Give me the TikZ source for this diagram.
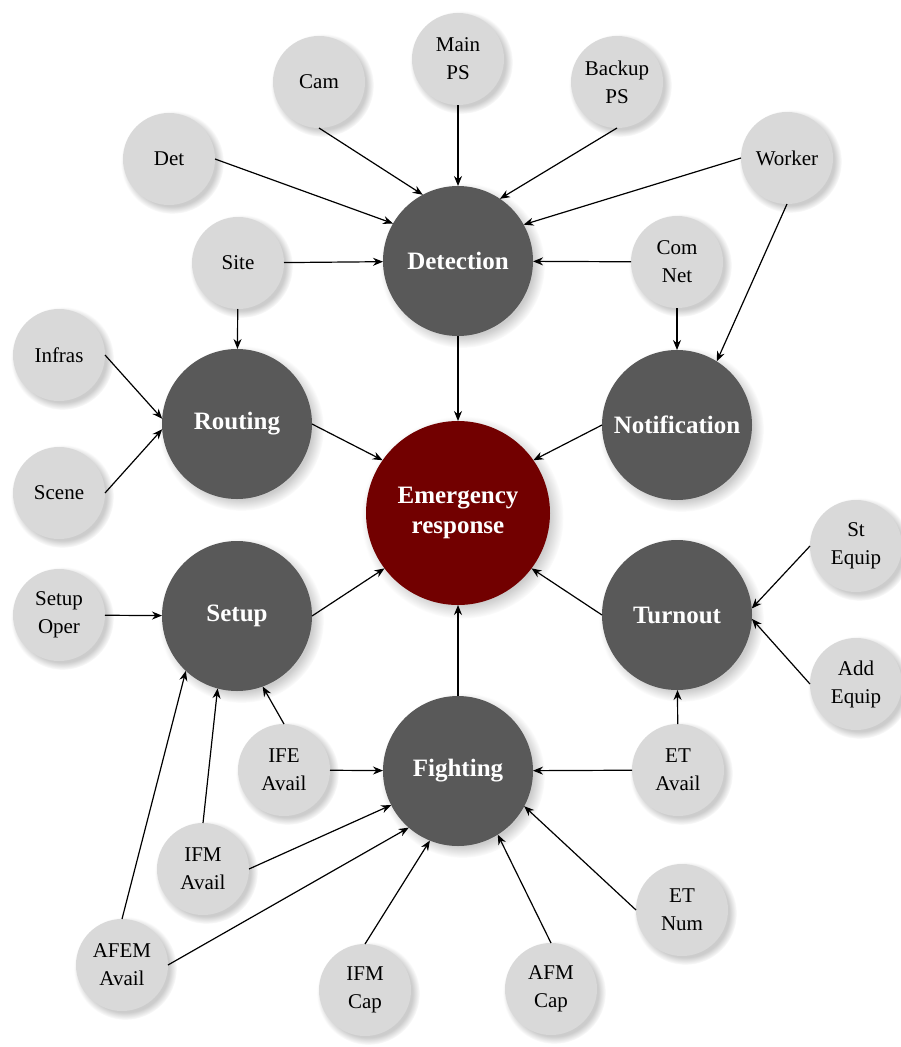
\documentclass[tikz,border=0pt]{standalone}
\usepackage{fontspec}
\setmainfont{Liberation Serif}
\usetikzlibrary{shadows,arrows.meta}
\definecolor{hubgray}{RGB}{89,89,89}
\definecolor{leafgray}{RGB}{217,217,217}
\definecolor{respred}{RGB}{114,0,0}
\tikzset{>={Stealth[length=10pt,width=8pt]}}
\tikzset{
  leaf/.style={circle, fill=leafgray, minimum size=92pt, inner sep=0pt, outer sep=0pt,
    align=center, font=\fontsize{21}{28}\selectfont,
    circular drop shadow={shadow xshift=3pt, shadow yshift=-3pt, shadow scale=1.12, opacity=0.4}},
  hub/.style={circle, fill=hubgray, text=white, minimum size=150pt, inner sep=0pt, outer sep=0pt,
    align=center, font=\bfseries\fontsize{25}{30}\selectfont,
    circular drop shadow={shadow xshift=4pt, shadow yshift=-4pt, shadow scale=1.1, opacity=0.4}},
  goal/.style={hub, fill=respred, minimum size=184pt},
  link/.style={->, line width=1.2pt}
}

\begin{document}
\begin{tikzpicture}[x=1pt, y=-1pt]
    \useasboundingbox (0,0) rectangle (901,1047);

    \node[hub] (detect) at (458,261) {Detection};
    \node[goal] (emerg) at (458,513) {Emergency\\response};
    \node[hub] (routing) at (237,424) {Routing};
    \node[hub] (notif) at (677,425) {Notification};
    \node[hub] (setup) at (237,616) {Setup};
    \node[hub] (turnout) at (677,615) {Turnout};
    \node[hub] (fight) at (458,771) {Fighting};

    \node[leaf] (det) at (169,159) {Det};
    \node[leaf] (cam) at (319,82) {Cam};
    \node[leaf] (mainps) at (458,59) {Main\\PS};
    \node[leaf] (backup) at (617,82) {Backup\\PS};
    \node[leaf] (worker) at (787,158) {Worker};
    \node[leaf] (site) at (238,263) {Site};
    \node[leaf] (comnet) at (677,262) {Com\\Net};
    \node[leaf] (infras) at (59,355) {Infras};
    \node[leaf] (scene) at (59,493) {Scene};
    \node[leaf] (stequip) at (856,546) {St\\Equip};
    \node[leaf] (addequip) at (856,684) {Add\\Equip};
    \node[leaf] (setupoper) at (59,615) {Setup\\Oper};
    \node[leaf] (ifeavail) at (284,770) {IFE\\Avail};
    \node[leaf] (etavail) at (678,770) {ET\\Avail};
    \node[leaf] (ifmavail) at (203,869) {IFM\\Avail};
    \node[leaf] (etnum) at (682,910) {ET\\Num};
    \node[leaf] (afemavail) at (122,965) {AFEM\\Avail};
    \node[leaf] (ifmcap) at (365,990) {IFM\\Cap};
    \node[leaf] (afmcap) at (551,989) {AFM\\Cap};

    % detection inputs
    \draw[link] (det.east) -- (detect.150);
    \draw[link] (cam.south) -- (detect.118);
    \draw[link] (mainps) -- (detect);
    \draw[link] (backup.south) -- (detect.56);
    \draw[link] (worker.west) -- (detect.29);
    \draw[link] (site) -- (detect);
    \draw[link] (comnet) -- (detect);

    % routing, notification, setup, turnout
    \draw[link] (site) -- (routing);
    \draw[link] (infras.east) -- (routing.176);
    \draw[link] (scene.east) -- (routing.184);
    \draw[link] (comnet) -- (notif);
    \draw[link] (worker.south) -- (notif.58);
    \draw[link] (setupoper) -- (setup);
    \draw[link] (ifeavail.north) -- (setup.290);
    \draw[link] (ifmavail.north) -- (setup.255);
    \draw[link] (afemavail.north) -- (setup.227);
    \draw[link] (stequip.west) -- (turnout.5);
    \draw[link] (addequip.west) -- (turnout.-3);
    \draw[link] (etavail) -- (turnout);

    % fighting inputs
    \draw[link] (ifeavail) -- (fight);
    \draw[link] (etavail) -- (fight);
    \draw[link] (ifmavail.east) -- (fight.207);
    \draw[link] (afemavail.east) -- (fight.229);
    \draw[link] (ifmcap.north) -- (fight.248);
    \draw[link] (afmcap.north) -- (fight.302);
    \draw[link] (etnum.west) -- (fight.332);

    % into emergency response
    \draw[link] (detect) -- (emerg);
    \draw[link] (fight) -- (emerg);
    \draw[link] (routing.east) -- (emerg.145);
    \draw[link] (notif.west) -- (emerg.35);
    \draw[link] (setup.east) -- (emerg.217);
    \draw[link] (turnout.west) -- (emerg.-37);
\end{tikzpicture}
\end{document}
